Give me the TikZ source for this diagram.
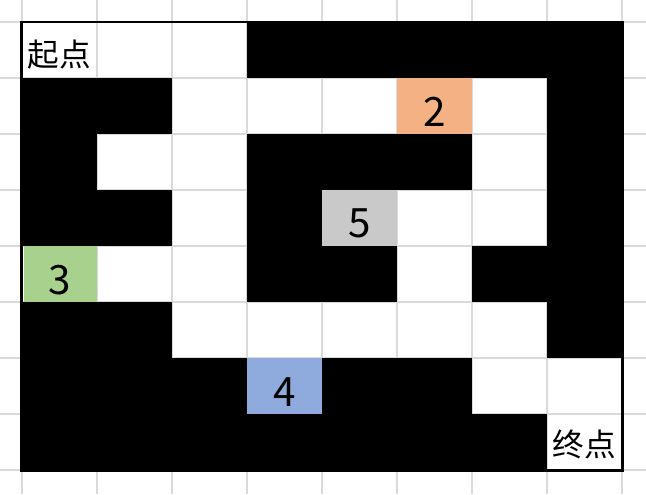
\documentclass[tikz,border=0pt]{standalone}
\usepackage{fontspec}
\setmainfont{Noto Sans CJK SC}
\definecolor{sheetline}{HTML}{DADADA}
\definecolor{cellorange}{HTML}{F4B183}
\definecolor{cellgray}{HTML}{C9C9C9}
\definecolor{cellgreen}{HTML}{A9D18E}
\definecolor{cellblue}{HTML}{8FAADC}
\tikzset{
  wall/.style={fill=black},
  endlabel/.style={font=\fontsize{18}{18}\selectfont},
  numlabel/.style={font=\fontsize{23}{23}\selectfont}
}
\begin{document}
\begin{tikzpicture}[x=1.5cm,y=1.12cm]
        \useasboundingbox (-0.293,-0.429) rectangle (8.32,8.393);

        % sheet grid
        \foreach \i in {0,...,8} {
            \draw[sheetline, line width=0.6pt] (\i,-0.429) -- (\i,8.393);
            \draw[sheetline, line width=0.6pt] (-0.293,\i) -- (8.32,\i);
        }

        % walls
        \fill[wall] (3,7) rectangle (8,8);
        \fill[wall] (7,2) rectangle (8,8);
        \fill[wall] (0,6) rectangle (2,7);
        \fill[wall] (0,5) rectangle (1,6);
        \fill[wall] (3,5) rectangle (6,6);
        \fill[wall] (0,4) rectangle (2,5);
        \fill[wall] (3,4) rectangle (4,5);
        \fill[wall] (3,3) rectangle (5,4);
        \fill[wall] (6,3) rectangle (7,4);
        \fill[wall] (0,2) rectangle (2,3);
        \fill[wall] (0,1) rectangle (3,2);
        \fill[wall] (4,1) rectangle (6,2);
        \fill[wall] (0,0) rectangle (7,1);

        % numbered cells
        \fill[cellorange] (5,6) rectangle (6,7);
        \fill[cellgray] (4,4) rectangle (5,5);
        \fill[cellgreen] (0.03,3) rectangle (1,4);
        \fill[cellblue] (3,1) rectangle (4,2);

        \draw[line width=1.7pt] (0,0) rectangle (8,8);

        \node[endlabel] (start) at (0.5,7.42) {起点};
        \node[endlabel] (goal) at (7.5,0.45) {终点};

        \node[numlabel] (n2) at (5.5,6.4) {2};
        \node[numlabel] (n5) at (4.5,4.4) {5};
        \node[numlabel] (n3) at (0.5,3.4) {3};
        \node[numlabel] (n4) at (3.5,1.4) {4};
    \end{tikzpicture}
\end{document}
